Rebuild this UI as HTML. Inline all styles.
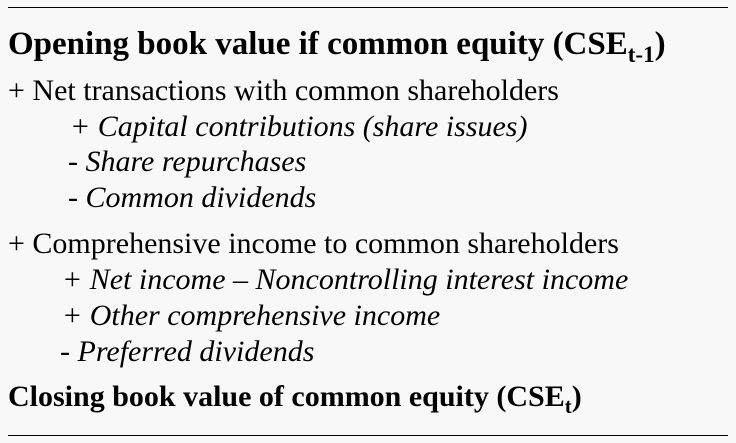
<!DOCTYPE html>
<html><head><meta charset="utf-8"><style>
html,body{margin:0;padding:0}
body{width:736px;height:443px;background:#f8f8f8;position:relative;overflow:hidden;font-family:"Liberation Serif",serif;color:#000}
.l{position:absolute;white-space:nowrap;font-size:30px;line-height:30px}
.b{font-weight:bold}
.i{font-style:italic}
.hr{position:absolute;left:8px;width:720px;height:1px;background:#000}
sub{font-size:21px;vertical-align:-7px;line-height:0}
.h sub{font-size:23px;vertical-align:-8px}
</style></head><body>
<div class="hr" style="top:7px"></div>
<div class="l b h" style="left:8px;top:28px;font-size:33px;line-height:33px">Opening book value if common equity (CSE<sub>t-1</sub>)</div>
<div class="l" style="left:8px;top:76px">+ Net transactions with common shareholders</div>
<div class="l i" style="left:70px;top:112px">+ Capital contributions (share issues)</div>
<div class="l i" style="left:68px;top:147px">- Share repurchases</div>
<div class="l i" style="left:68px;top:183px">- Common dividends</div>
<div class="l" style="left:8px;top:229px">+ Comprehensive income to common shareholders</div>
<div class="l i" style="left:62px;top:265px">+ Net income – Noncontrolling interest income</div>
<div class="l i" style="left:62px;top:301px">+ Other comprehensive income</div>
<div class="l i" style="left:60px;top:337px">- Preferred dividends</div>
<div class="l b" style="left:8px;top:382px">Closing book value of common equity (CSE<sub>t</sub>)</div>
<div class="hr" style="top:435px"></div>
</body></html>
